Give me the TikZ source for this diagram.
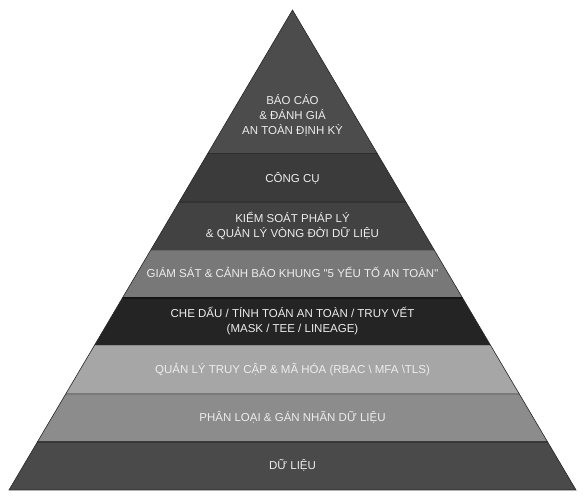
\documentclass[tikz,border=0pt]{standalone}
\usepackage{fontspec}
\setmainfont{Liberation Sans}[Ligatures=TeXOff]
\begin{document}
\begin{tikzpicture}[x=1pt,y=-1pt,
  lbl/.style={text=white!93!black,font=\fontsize{11.5}{15}\selectfont,align=center,inner sep=0pt},
  sep/.style={line width=1.5pt}]
\useasboundingbox (0,0) rectangle (586,500);
\coordinate (apex) at (292.5,10);
\coordinate (bl) at (9,490);
\coordinate (br) at (576,490);
\begin{scope}
\clip (apex) -- (br) -- (bl) -- cycle;
\fill[black!70] (0,0) rectangle (586,153);
\fill[black!77] (0,153) rectangle (586,201.5);
\fill[black!74] (0,201.5) rectangle (586,250);
\fill[black!53] (0,250) rectangle (586,297.5);
\fill[black!86] (0,297.5) rectangle (586,345);
\fill[black!35] (0,345) rectangle (586,393.5);
\fill[black!45] (0,393.5) rectangle (586,441.5);
\fill[black!71] (0,441.5) rectangle (586,490);
\draw[sep,black!82] (0,153.5) -- (586,153.5);
\draw[sep,black!80] (0,202) -- (586,202);
\draw[sep,black!60] (0,250.5) -- (586,250.5);
\draw[sep,black!92] (0,298) -- (586,298);
\draw[sep,black!45] (0,345.5) -- (586,345.5);
\draw[sep,black!52] (0,394) -- (586,394);
\draw[sep,black!78] (0,442) -- (586,442);
\end{scope}
\draw[black!85,line width=0.6pt] (apex) -- (br) -- (bl) -- cycle;
\node[lbl] (t1) at (292.5,115) {BÁO CÁO\\\& ĐÁNH GIÁ\\AN TOÀN ĐỊNH KỲ};
\node[lbl] (t2) at (292.5,178) {CÔNG CỤ};
\node[lbl] (t3) at (292.5,226) {KIỂM SOÁT PHÁP LÝ\\\& QUẢN LÝ VÒNG ĐỜI DỮ LIỆU};
\node[lbl] (t4) at (292.5,272.5) {GIÁM SÁT \& CẢNH BÁO KHUNG "5 YẾU TỐ AN TOÀN"};
\node[lbl] (t5) at (292.5,321) {CHE DẤU / TÍNH TOÁN AN TOÀN / TRUY VẾT\\(MASK / TEE / LINEAGE)};
\node[lbl] (t6) at (292.5,369.5) {QUẢN LÝ TRUY CẬP \& MÃ HÓA (RBAC \textbackslash{} MFA \textbackslash TLS)};
\node[lbl] (t7) at (292.5,417.5) {PHÂN LOẠI \& GÁN NHÃN DỮ LIỆU};
\node[lbl] (t8) at (292.5,465.5) {DỮ LIỆU};
\end{tikzpicture}
\end{document}
